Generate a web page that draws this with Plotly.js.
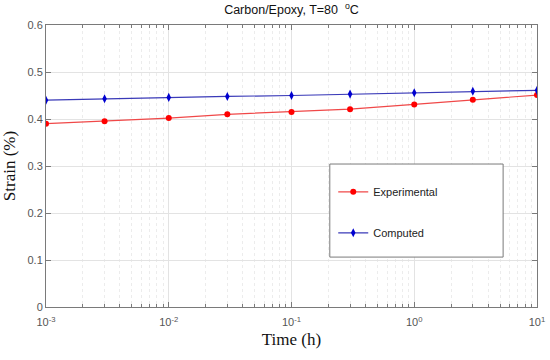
<!DOCTYPE html>
<html><head><meta charset="utf-8">
<script src="https://cdn.plot.ly/plotly-3.0.1.min.js"></script>
<style>html,body{margin:0;padding:0;background:#fff}#c{width:550px;height:360px}</style>
</head><body><div id="c"></div>
<script>
const timeH = [0.001, 0.003, 0.01, 0.03, 0.1, 0.3, 1, 3, 10];
const experimental = [0.390, 0.395, 0.402, 0.410, 0.415, 0.421, 0.431, 0.441, 0.451];
const computed = [0.440, 0.443, 0.446, 0.448, 0.450, 0.453, 0.456, 0.459, 0.461];
const yTicks = [0, 0.1, 0.2, 0.3, 0.4, 0.5, 0.6];
const xTicks = [0.001, 0.01, 0.1, 1, 10];

const traces = [
  {x: timeH, y: experimental, name: 'Experimental', type: 'scatter', mode: 'lines+markers',
   legendgroup: 'a',
   line: {color: '#f04848', width: 1.2}, marker: {color: '#ff0000', size: 6, symbol: 'circle'}},
  {x: timeH, y: computed, name: 'Computed', type: 'scatter', mode: 'lines+markers',
   legendgroup: 'b',
   line: {color: '#3a3ab8', width: 1.2}, marker: {color: '#0000d0', size: 6.5, symbol: 'diamond-tall'}}
];

const axisCommon = {
  showline: true, linecolor: '#7a7a7a', linewidth: 1, mirror: 'ticks',
  ticks: 'inside', ticklen: 5, tickcolor: '#7a7a7a',
  showgrid: true, gridcolor: '#e3e3e3', gridwidth: 1, zeroline: false,
  tickfont: {family: 'Liberation Sans, Arial, sans-serif', size: 11, color: '#555'}
};

const layout = {
  width: 550, height: 360,
  margin: {l: 46, r: 13, t: 25, b: 53},
  paper_bgcolor: '#fff', plot_bgcolor: '#fff',
  title: {text: 'Carbon/Epoxy, T=80  <sup>o</sup>C', x: 0.53, xanchor: 'center', y: 0.985, yanchor: 'top',
          font: {family: 'Liberation Sans, Arial, sans-serif', size: 12.5, color: '#111'}},
  xaxis: Object.assign({}, axisCommon, {
    type: 'log', range: [-3, 1], tickvals: xTicks, ticklabelstandoff: 5,
    ticktext: ['10<sup>-3</sup>', '10<sup>-2</sup>', '10<sup>-1</sup>', '10<sup>0</sup>', '10<sup>1</sup>'],
    minor: {dtick: 'D1', ticks: 'inside', ticklen: 3, tickcolor: '#7a7a7a', showgrid: true, gridcolor: '#ececec', griddash: 'dot'},
    title: {text: 'Time (h)', font: {family: 'Liberation Serif, Times New Roman, serif', size: 17, color: '#111'}, standoff: 5}
  }),
  yaxis: Object.assign({}, axisCommon, {
    range: [0, 0.6], tickvals: yTicks, ticktext: ['0', '0.1', '0.2', '0.3', '0.4', '0.5', '0.6'],
    title: {text: 'Strain (%)', font: {family: 'Liberation Serif, Times New Roman, serif', size: 17, color: '#111'}, standoff: 8}
  }),
  showlegend: true,
  legend: {x: 0.585, xanchor: 'left', y: 0.46, yanchor: 'top', bgcolor: 'rgba(0,0,0,0)',
           borderwidth: 0, tracegroupgap: 22,
           font: {family: 'Liberation Sans, Arial, sans-serif', size: 11, color: '#222'}},
  shapes: [{type: 'rect', xref: 'paper', yref: 'paper', x0: 0.578, x1: 0.931, y0: 0.177, y1: 0.507,
            line: {color: '#7a7a7a', width: 1}, fillcolor: '#fff', layer: 'above'}]
};

Plotly.newPlot('c', traces, layout, {displayModeBar: false, staticPlot: true});
</script></body></html>
